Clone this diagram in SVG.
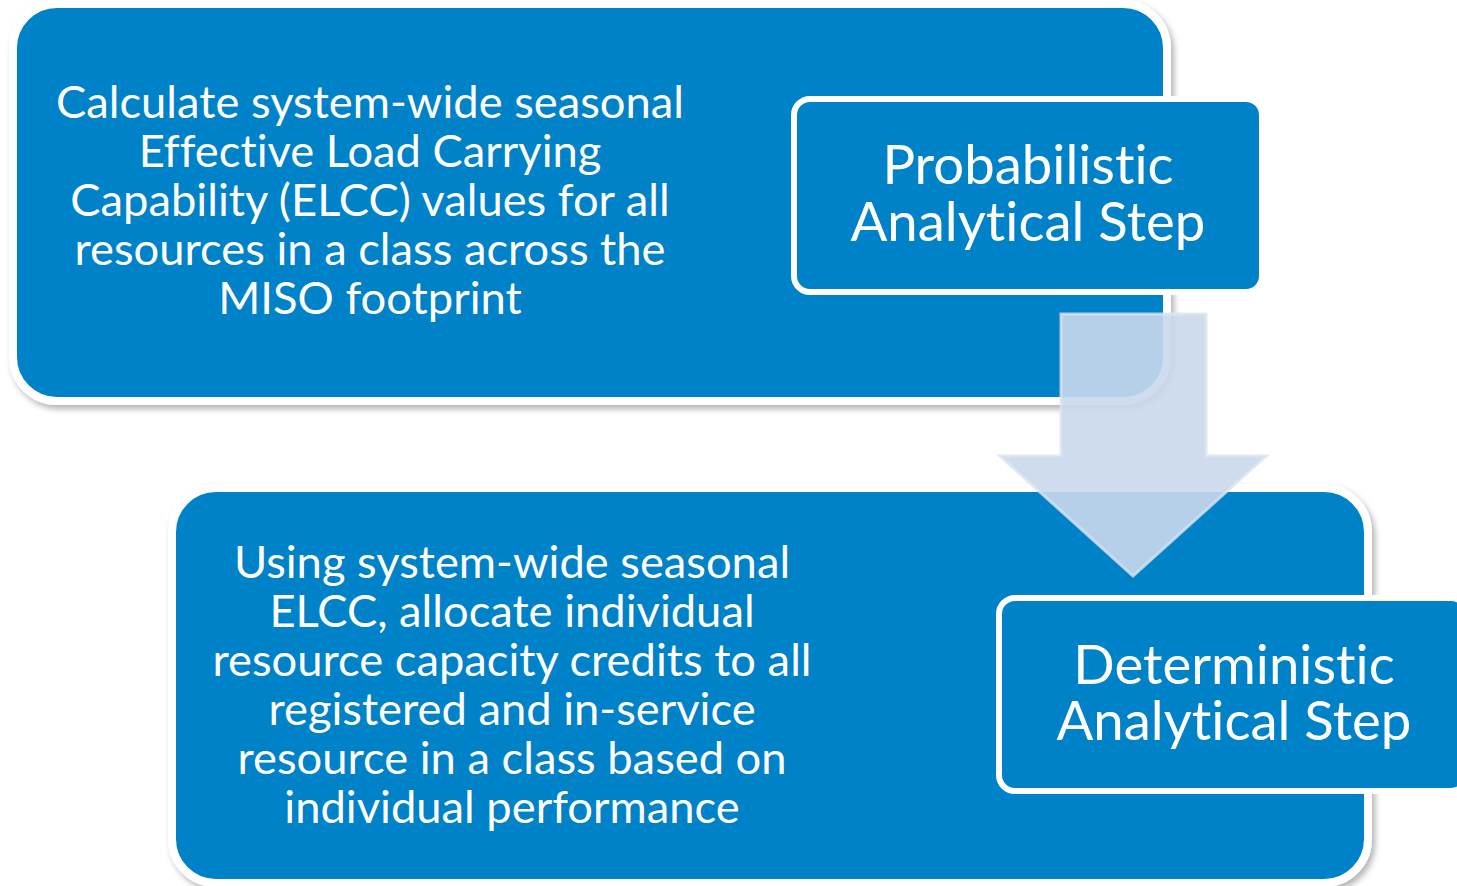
<svg xmlns="http://www.w3.org/2000/svg" width="1457" height="886" viewBox="0 0 1457 886">
<defs>
<filter id="sh" x="-5%" y="-5%" width="110%" height="115%">
<feDropShadow dx="3" dy="4" stdDeviation="3" flood-color="#000" flood-opacity="0.3"/>
</filter>
<style>
.big{fill:#0082c8;stroke:#fff;stroke-width:8;}
.small{fill:#0082c8;stroke:#fff;stroke-width:6;}
text{font-family:Lato,"Liberation Sans",sans-serif;fill:#fff;text-anchor:middle;font-variant-ligatures:none;}
.t1{font-size:45.3px;}
.t2{font-size:54.5px;}
.arrow{fill:rgb(202,216,236);fill-opacity:0.9;stroke:#dbe3f0;stroke-width:3;stroke-opacity:0.8;}
</style>
</defs>
<rect width="1457" height="886" fill="#fff"/>
<g id="box1">
<rect class="big" x="13" y="4" width="1154" height="397" rx="44" filter="url(#sh)"/>
<text class="t1"><tspan x="370" y="118">Calculate system-wide seasonal</tspan><tspan x="370" y="167">Effective Load Carrying</tspan><tspan x="370" y="216">Capability (ELCC) values for all</tspan><tspan x="370" y="265">resources in a class across the</tspan><tspan x="370" y="314">MISO footprint</tspan></text>
</g>
<g id="prob">
<rect class="small" x="794" y="99" width="468" height="193" rx="16"/>
<text class="t2" x="1028" y="184">Probabilistic</text>
<text class="t2" x="1028" y="241">Analytical Step</text>
</g>
<g id="box2">
<rect class="big" x="172" y="488" width="1196" height="395" rx="44" filter="url(#sh)"/>
<text class="t1"><tspan x="512" y="578">Using system-wide seasonal</tspan><tspan x="512" y="627">ELCC, allocate individual</tspan><tspan x="512" y="676">resource capacity credits to all</tspan><tspan x="512" y="725">registered and in-service</tspan><tspan x="512" y="774">resource in a class based on</tspan><tspan x="512" y="823">individual performance</tspan></text>
</g>
<g id="connectors">
<polygon class="arrow" points="1061,314 1206,314 1206,456 1266,456 1133,576 1000,456 1061,456"/>
</g>
<g id="det">
<rect class="small" x="999" y="598" width="468" height="193" rx="16"/>
<text class="t2" x="1234" y="684">Deterministic</text>
<text class="t2" x="1234" y="740">Analytical Step</text>
</g>
</svg>
